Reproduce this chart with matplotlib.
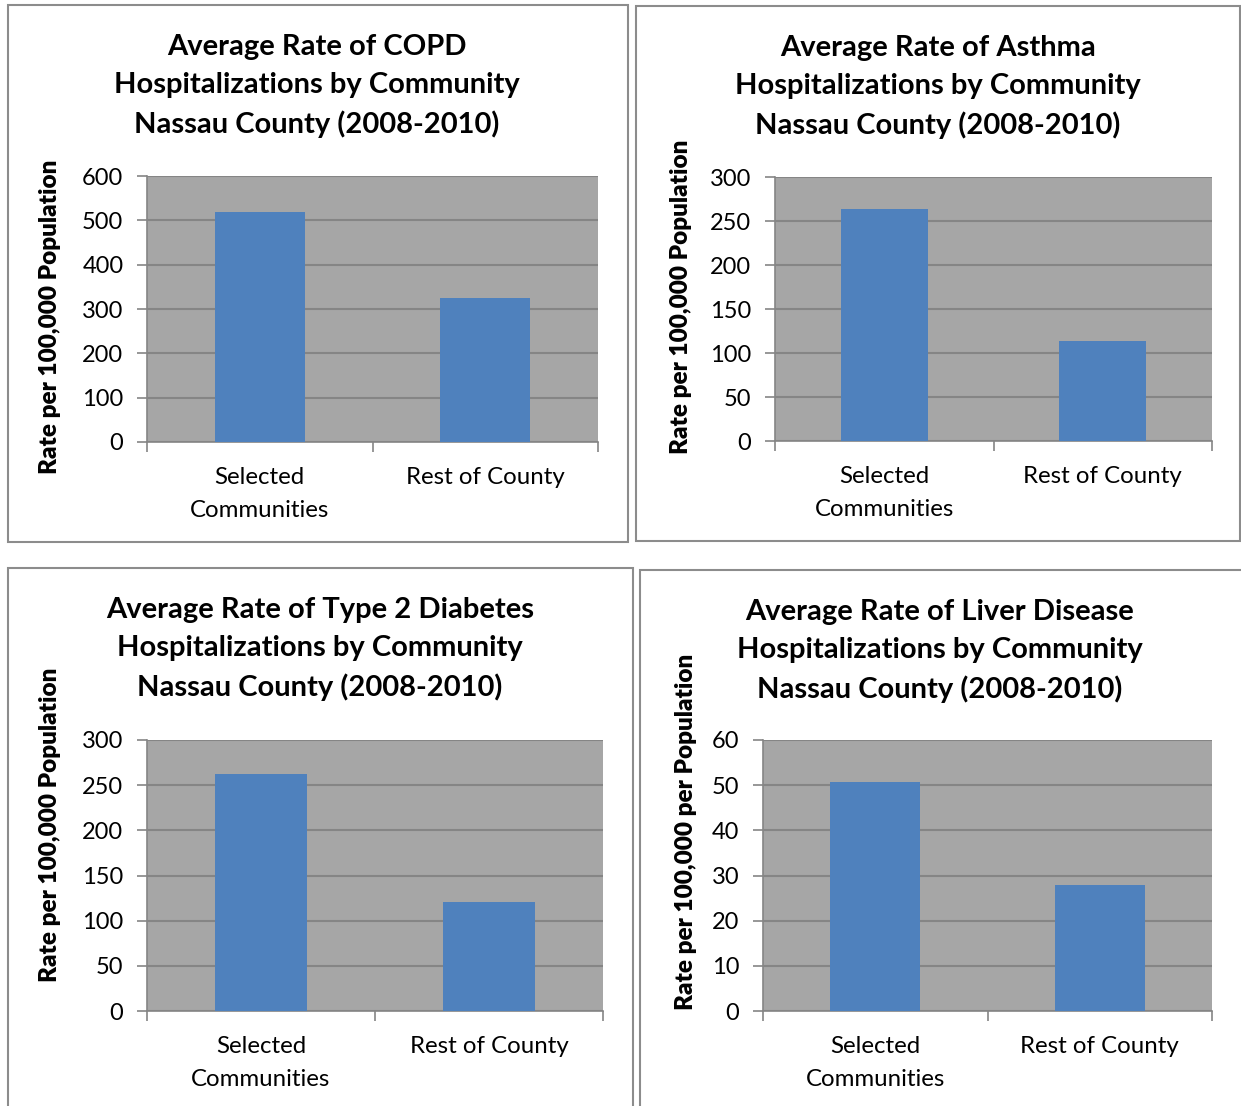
import matplotlib.pyplot as plt
from matplotlib.patches import Rectangle

plt.rcParams['font.family'] = ['Lato', 'DejaVu Sans']

categories = ['Selected\nCommunities', 'Rest of County']

copd = [518, 325]
asthma = [264, 114]
diabetes = [262, 121]
liver = [50.6, 28]

titles = [
    'Average Rate of COPD\nHospitalizations by Community\nNassau County (2008-2010)',
    'Average Rate of Asthma\nHospitalizations by Community\nNassau County (2008-2010)',
    'Average Rate of Type 2 Diabetes\nHospitalizations by Community\nNassau County (2008-2010)',
    'Average Rate of Liver Disease\nHospitalizations by Community\nNassau County (2008-2010)',
]
ylabels = [
    'Rate per 100,000 Population',
    'Rate per 100,000 Population',
    'Rate per 100,000 Population',
    'Rate per 100,000 per Population',
]
yticks = [
    [0, 100, 200, 300, 400, 500, 600],
    [0, 50, 100, 150, 200, 250, 300],
    [0, 50, 100, 150, 200, 250, 300],
    [0, 10, 20, 30, 40, 50, 60],
]
values = [copd, asthma, diabetes, liver]

W, H = 1241, 1106
fig = plt.figure(figsize=(W / 100, H / 100), dpi=100)

# panel boxes (pixel coords: x0, y0, x1, y1)
boxes = [(8, 5, 628, 542), (636, 6, 1240, 541), (8, 568, 633, 1110), (640, 570, 1245, 1110)]
# plot areas (pixel coords)
areas = [(147, 176, 598, 442), (775, 177, 1212, 441), (147, 740, 603, 1011), (763, 740, 1212, 1011)]
title_pos = [(317, 86), (938, 87), (320, 649), (940, 651)]
ylab_pos = [(50, 317), (681, 297), (50, 825), (686, 832)]

for b in boxes:
    fig.patches.append(Rectangle((b[0] / W, 1 - b[3] / H), (b[2] - b[0]) / W, (b[3] - b[1]) / H,
                                 transform=fig.transFigure, fill=False, edgecolor='#8c8c8c', linewidth=1.5))

grid_c = '#858585'
for i in range(4):
    x0, y0, x1, y1 = areas[i]
    ax = fig.add_axes([x0 / W, 1 - y1 / H, (x1 - x0) / W, (y1 - y0) / H])
    ax.set_facecolor('#a6a6a6')
    ax.bar([0, 1], values[i], width=0.4, color='#4f81bd', zorder=3)
    ax.set_xlim(-0.5, 1.5)
    ax.set_ylim(yticks[i][0], yticks[i][-1])
    ax.set_yticks(yticks[i])
    ax.tick_params(axis='y', labelsize=17, length=7, color=grid_c, width=1.2, pad=10)
    ax.set_xticks([-0.5, 0.5, 1.5])
    ax.set_xticklabels([])
    ax.set_xticks([0, 1], minor=True)
    ax.set_xticklabels(categories, minor=True, fontsize=17.3, linespacing=1.7)
    ax.tick_params(axis='x', which='major', length=7, color=grid_c, width=1.2)
    ax.tick_params(axis='x', which='minor', length=0, pad=18)
    ax.grid(axis='y', color=grid_c, linewidth=1.5, zorder=1)
    for s in ['top', 'right']:
        ax.spines[s].set_visible(False)
    for s in ['left', 'bottom']:
        ax.spines[s].set_color(grid_c)
        ax.spines[s].set_linewidth(1.2)
    fig.text(title_pos[i][0] / W, 1 - title_pos[i][1] / H, titles[i], ha='center', va='center',
             fontsize=21, fontweight='bold', linespacing=1.55)
    fig.text(ylab_pos[i][0] / W, 1 - ylab_pos[i][1] / H, ylabels[i], rotation=90, ha='center', va='center',
             fontsize=17.5, fontweight='heavy')

fig.savefig('out.png', dpi=100)
